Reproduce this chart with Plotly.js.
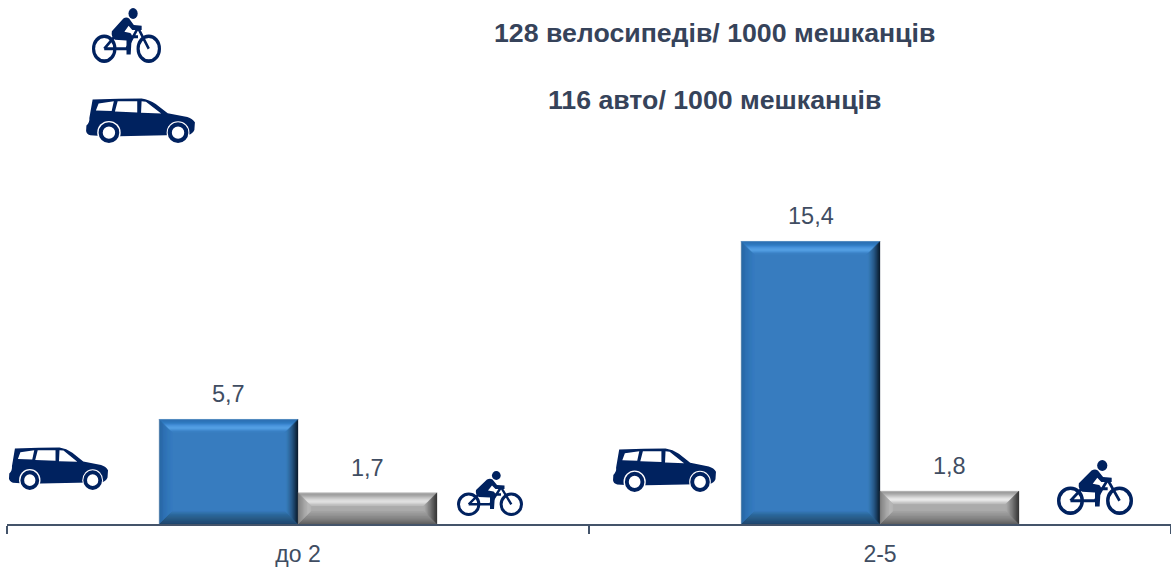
<!DOCTYPE html>
<html>
<head>
<meta charset="utf-8">
<script src="https://cdn.plot.ly/plotly-3.0.1.min.js"></script>
<style>html,body{margin:0;padding:0;background:#fff}#chart{width:1171px;height:568px}</style>
</head>
<body>
<div id="chart"></div>
<script>
// ---- data ----
var categories = ['до 2', '2-5'];
var carValues = [5.7, 15.4];
var bikeValues = [1.7, 1.8];
var headlines = ['128 велосипедів/ 1000 мешканців', '116 авто/ 1000 мешканців'];

// ---- layout constants ----
var W = 1171, H = 568;
var M = {l: 7, r: 0, t: 0, b: 44};
var plotW = W - M.l - M.r, plotH = H - M.t - M.b;
var pxPerUnit = 18.35;
var yMax = plotH / pxPerUnit;
var pxPerCat = plotW / categories.length;
var barW = 0.2388;          // in category units
var BEVEL = 13;             // px
var TEXT = '#404D62', DARK = '#36435A', FONT = '"Liberation Sans", Arial, sans-serif';

// bevel colour stops, outer edge -> inner edge
var blueStyle = {
  face: '#377CBF',
  top: ['#3375B5','#2F73B5','#3079BD','#337EC4','#3A85CC','#4390D8','#4E9BE2','#58A4EA','#5CA7ED','#5AA4E8','#4F97DB','#4289CE','#3A80C4'],
  bottom: ['#1F4970','#214C75','#234F79','#25537E','#265781','#285B87','#295F8C','#2A6291','#2B6596','#2D6A9D','#2F6EA5','#3273AE','#3578B8'],
  left: ['#5F88B0','#2A6AA8','#2B6CAA','#2C6EAE','#2E71B1','#2F73B4','#3075B6','#3176B8','#3278BA','#3379BB','#347ABC','#367BBE','#377CBF'],
  right: ['#0C1E30','#10283F','#15324E','#1A3C5E','#1F466D','#24507B','#285A88','#2C6394','#2F6A9E','#3270A8','#3475B0','#3679B8','#377CBD']
};
var grayStyle = {
  face: '#ABABAB',
  top: ['#B4B4B4','#9E9E9E','#A4A4A4','#AEAEAE','#BCBCBC','#C9C9C9','#D6D6D6','#E1E1E1','#E8E8E8','#E6E6E6','#DADADA','#CDCDCD','#C0C0C0'],
  bottom: ['#606060','#6A6A6A','#707070','#767676','#7C7C7C','#828282','#888888','#8D8D8D','#929292','#969696','#9A9A9A','#9E9E9E','#A2A2A2'],
  left: ['#7F7F7F','#878787','#8E8E8E','#949494','#9A9A9A','#A0A0A0','#A5A5A5','#AAAAAA','#AFAFAF','#B3B3B3','#B6B6B6','#B6B6B6','#B4B4B4'],
  right: ['#383838','#414141','#4A4A4A','#545454','#5E5E5E','#686868','#727272','#7C7C7C','#868686','#8F8F8F','#989898','#A0A0A0','#A8A8A8']
};

function bevelShapes(x0, x1, value, style) {
  var out = [], dx = 1 / pxPerCat, dy = 1 / pxPerUnit;
  function poly(a, color) {
    out.push({type: 'path', xref: 'x', yref: 'y', layer: 'above', fillcolor: color,
      line: {color: color, width: 0.3},
      path: 'M' + a.map(function (p) { return p[0] + ',' + p[1]; }).join('L') + 'Z'});
  }
  for (var i = 0; i < BEVEL; i++) {
    var a = i, b = i + 1;
    var L0 = x0 + a * dx, L1 = x0 + b * dx, R0 = x1 - a * dx, R1 = x1 - b * dx;
    var T0 = value - a * dy, T1 = value - b * dy, B0 = a * dy, B1 = b * dy;
    poly([[L0,T0],[R0,T0],[R1,T1],[L1,T1]], style.top[i]);
    poly([[L0,B0],[R0,B0],[R1,B1],[L1,B1]], style.bottom[i]);
    poly([[L0,T0],[L1,T1],[L1,B1],[L0,B0]], style.left[i]);
    poly([[R0,T0],[R1,T1],[R1,B1],[R0,B0]], style.right[i]);
  }
  return out;
}

var shapes = [];
categories.forEach(function (c, i) {
  shapes = shapes.concat(bevelShapes(i - barW, i, carValues[i], blueStyle));
  shapes = shapes.concat(bevelShapes(i, i + barW, bikeValues[i], grayStyle));
});

// ---- pictograms ----
var NAVY = '#03205F';
var SOFT = '<defs><filter id="s" x="-5%" y="-5%" width="110%" height="110%"><feGaussianBlur stdDeviation="0.35"/></filter></defs>';
var carSvg = '<svg xmlns="http://www.w3.org/2000/svg" viewBox="-1 -0.5 102 42.5" preserveAspectRatio="none">' + SOFT + '<g filter="url(#s)">' +
  '<path fill="' + NAVY + '" fill-rule="evenodd" d="M6 1 L30 0.3 L51 0 Q58 1 64 5 L75 13.5 L93 17 Q98 18.5 100 22 L99.5 29 Q98 32.5 94 33.5 L20 35 L4 34 Q0.5 33 0 30 L0.3 25 Q3.5 22 3 18 L6 1 Z ' +
  'M9 11 L11.5 4.5 L25.5 2.6 L23.5 11.5 Z M29 2.6 L47 2.6 L47 12.8 L26.5 12 Z M51 2.6 L55 3 L69 13.8 L50.5 13.2 Z"/>' +
  '<circle cx="21" cy="31.5" r="10.8" fill="#fff"/><circle cx="84.5" cy="31.5" r="10.5" fill="#fff"/>' +
  '<circle cx="21" cy="31.5" r="7.6" fill="#fff" stroke="' + NAVY + '" stroke-width="3.8"/>' +
  '<circle cx="84.5" cy="31.5" r="7.6" fill="#fff" stroke="' + NAVY + '" stroke-width="3.8"/></g></svg>';
var bikeSvg = '<svg xmlns="http://www.w3.org/2000/svg" viewBox="0 0 66 45" preserveAspectRatio="none">' + SOFT + '<g filter="url(#s)">' +
  '<g fill="none" stroke="' + NAVY + '">' +
  '<circle cx="11.7" cy="33.3" r="10.2" stroke-width="3"/><circle cx="54.3" cy="33.3" r="10.2" stroke-width="3"/>' +
  '<path stroke-width="2.4" d="M11.7 33.3 L23 22 M11.7 33.3 L33 33.3 L43.5 17 M27 23.5 L44 23.5 M44.5 17 L54.3 33.3"/></g>' +
  '<circle cx="39.3" cy="4.5" r="4.4" fill="' + NAVY + '"/>' +
  '<path fill="' + NAVY + '" d="M19 19 L30 8.5 Q33 7 35.5 8.5 L40 14 L47.5 14.5 L47.5 18 L38.5 18 L35 14.5 L31 19.5 L36.5 20.5 Q38 21 38 23 L37 38 L33 38 L33 26.5 L22 26 Q18 24 19 19 Z"/></g></svg>';

function uri(svg) { return 'data:image/svg+xml;base64,' + btoa(svg); }
function icon(svg, px, py, pw, ph) {
  return {source: uri(svg), xref: 'paper', yref: 'paper', xanchor: 'left', yanchor: 'top',
    x: (px - M.l) / plotW, y: 1 - py / plotH, sizex: pw / plotW, sizey: ph / plotH,
    sizing: 'stretch', layer: 'above'};
}
var images = [
  icon(bikeSvg, 92, 8, 69, 55),
  icon(carSvg, 85, 98, 111, 46),
  icon(carSvg, 8, 447, 101, 44),
  icon(bikeSvg, 457, 471, 66, 45),
  icon(carSvg, 612, 448, 105, 45),
  icon(bikeSvg, 1057, 460, 76, 55)
];

// ---- annotations ----
function fmt(v) { return v.toFixed(1).replace('.', ','); }
var annotations = [];
categories.forEach(function (c, i) {
  [[carValues[i], i - barW / 2], [bikeValues[i], i + barW / 2]].forEach(function (d) {
    annotations.push({xref: 'x', yref: 'y', x: d[1], y: d[0], yshift: 25, yanchor: 'middle', xanchor: 'center',
      text: fmt(d[0]), showarrow: false, font: {family: FONT, size: 23.5, color: TEXT}});
  });
});
[33, 100].forEach(function (py, i) {
  annotations.push({xref: 'paper', yref: 'paper', x: (714.5 - M.l) / plotW, y: 1 - py / plotH,
    xanchor: 'center', yanchor: 'middle', showarrow: false, text: '<b>' + headlines[i] + '</b>',
    font: {family: FONT, size: 26.7, color: DARK}});
});

var traces = [
  {type: 'bar', name: 'авто', x: categories, y: carValues, marker: {color: blueStyle.face, line: {width: 0}}, hoverinfo: 'skip'},
  {type: 'bar', name: 'велосипеди', x: categories, y: bikeValues, marker: {color: grayStyle.face, line: {width: 0}}, hoverinfo: 'skip'}
];

var layout = {
  width: W, height: H, margin: M, showlegend: false,
  paper_bgcolor: '#fff', plot_bgcolor: '#fff',
  barmode: 'group', bargap: 1 - 2 * barW, bargroupgap: 0, separators: ', ',
  xaxis: {type: 'category', range: [-0.5, 1.5], tickson: 'boundaries', ticks: 'outside', ticklen: 8, tickwidth: 1.5,
    tickcolor: '#44546A', showline: true, linecolor: '#44546A', linewidth: 1.5, showgrid: false, zeroline: false,
    ticklabelstandoff: 9, tickfont: {family: FONT, size: 23, color: TEXT}, automargin: false},
  yaxis: {range: [0, yMax], visible: false, showgrid: false, zeroline: false},
  shapes: shapes, images: images, annotations: annotations
};
Plotly.newPlot('chart', traces, layout, {displayModeBar: false, staticPlot: true});
</script>
</body>
</html>
